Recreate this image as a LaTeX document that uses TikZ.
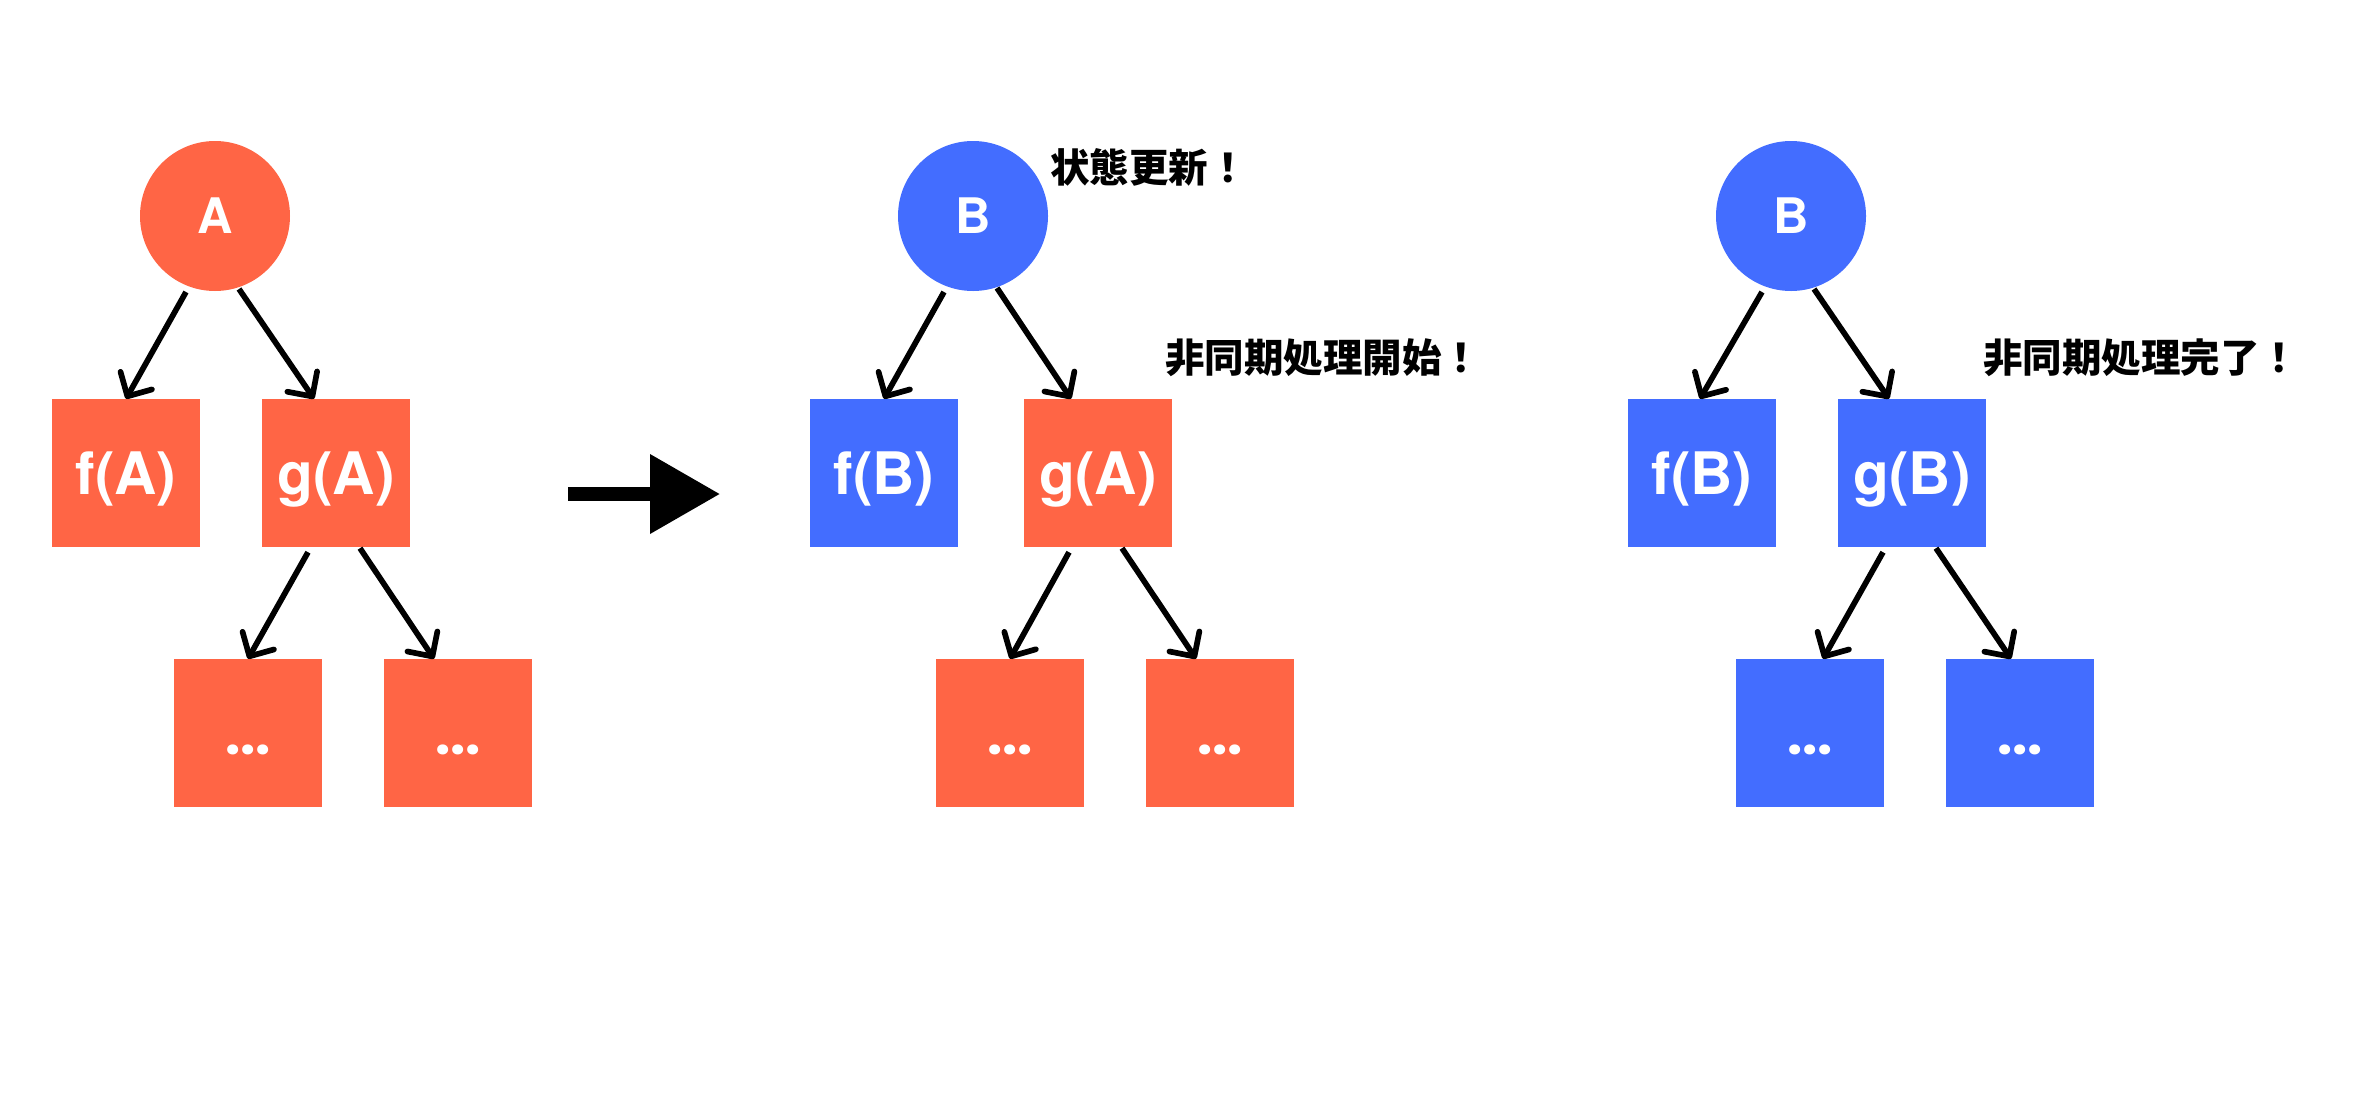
\documentclass[tikz,border=0pt]{standalone}
\usepackage{fontspec}
\setmainfont{TeX Gyre Heros}
\newfontfamily\cjk{Noto Sans CJK JP}
\newfontfamily\dotfont{Poppins}
\usetikzlibrary{arrows.meta,calc}
\definecolor{orng}{RGB}{255,101,69}
\definecolor{blu}{RGB}{67,109,255}
\begin{document}
\begin{tikzpicture}[x=1pt,y=-1pt,
  box/.style={rectangle, minimum size=148pt, inner sep=0pt, text=white,
    font=\bfseries\fontsize{58.6pt}{60pt}\selectfont, text height=42pt, text depth=0pt},
  dotbox/.style={box, font=\dotfont\bfseries\fontsize{54pt}{56pt}\selectfont},
  circ/.style={circle, minimum size=150pt, inner sep=0pt, text=white,
    font=\bfseries\fontsize{49pt}{50pt}\selectfont, text height=35pt, text depth=0pt},
  onode/.style={fill=orng},
  bnode/.style={fill=blu},
  note/.style={anchor=base west, inner sep=0pt, text=black,
    font=\cjk\bfseries\fontsize{39.5pt}{40pt}\selectfont},
  arr/.style={line width=5.7pt, draw=black,
    -{Straight Barb[length=18pt,width=36pt,line cap=round,line join=round]}}
]
\fill[white] (0,0) rectangle (2368,1114);
\useasboundingbox (0,0) rectangle (2368,1114);

% left tree
\node[circ,onode] (A) at (215,216) {A};
\node[box,onode] (fA) at (126,473) {f(A)};
\node[box,onode] (gA) at (336,473) {g(A)};
\node[dotbox,onode] (dA1) at (248,733) {...};
\node[dotbox,onode] (dA2) at (458,733) {...};

% middle tree
\node[circ,bnode] (B) at (973,216) {B};
\node[box,bnode] (fB) at (884,473) {f(B)};
\node[box,onode] (gB) at (1098,473) {g(A)};
\node[dotbox,onode] (dB1) at (1010,733) {...};
\node[dotbox,onode] (dB2) at (1220,733) {...};

% right tree
\node[circ,bnode] (C) at (1791,216) {B};
\node[box,bnode] (fC) at (1702,473) {f(B)};
\node[box,bnode] (gC) at (1912,473) {g(B)};
\node[dotbox,bnode] (dC1) at (1810,733) {...};
\node[dotbox,bnode] (dC2) at (2020,733) {...};

% arrows left
\draw[arr] ($(A.center)+(-29,76)$) -- (fA.north);
\draw[arr] ($(A.center)+(24,73)$) -- ($(gA.north)+(-22,0)$);
\draw[arr] ($(gA.south)+(-28,5)$) -- (dA1.north);
\draw[arr] ($(gA.south)+(24,1)$) -- ($(dA2.north)+(-24,0)$);

% arrows middle
\draw[arr] ($(B.center)+(-29,76)$) -- (fB.north);
\draw[arr] ($(B.center)+(24,72)$) -- ($(gB.north)+(-27,0)$);
\draw[arr] ($(gB.south)+(-29,5)$) -- (dB1.north);
\draw[arr] ($(gB.south)+(24,1)$) -- ($(dB2.north)+(-24,0)$);

% arrows right
\draw[arr] ($(C.center)+(-29,76)$) -- ($(fC.north)+(-2,0)$);
\draw[arr] ($(C.center)+(23,73)$) -- ($(gC.north)+(-23,0)$);
\draw[arr] ($(gC.south)+(-29,5)$) -- ($(dC1.north)+(13,0)$);
\draw[arr] ($(gC.south)+(24,1)$) -- ($(dC2.north)+(-9,0)$);

% big arrow
\fill[black] (568,487) rectangle (651,501);
\fill[black] (650,454) -- (719.5,494) -- (650,534) -- cycle;

% notes
\node[note] (n1) at (1050,182) {状態更新！};
\node[note] (n2) at (1165,372) {非同期処理開始！};
\node[note] (n3) at (1983,372) {非同期処理完了！};
\end{tikzpicture}
\end{document}
